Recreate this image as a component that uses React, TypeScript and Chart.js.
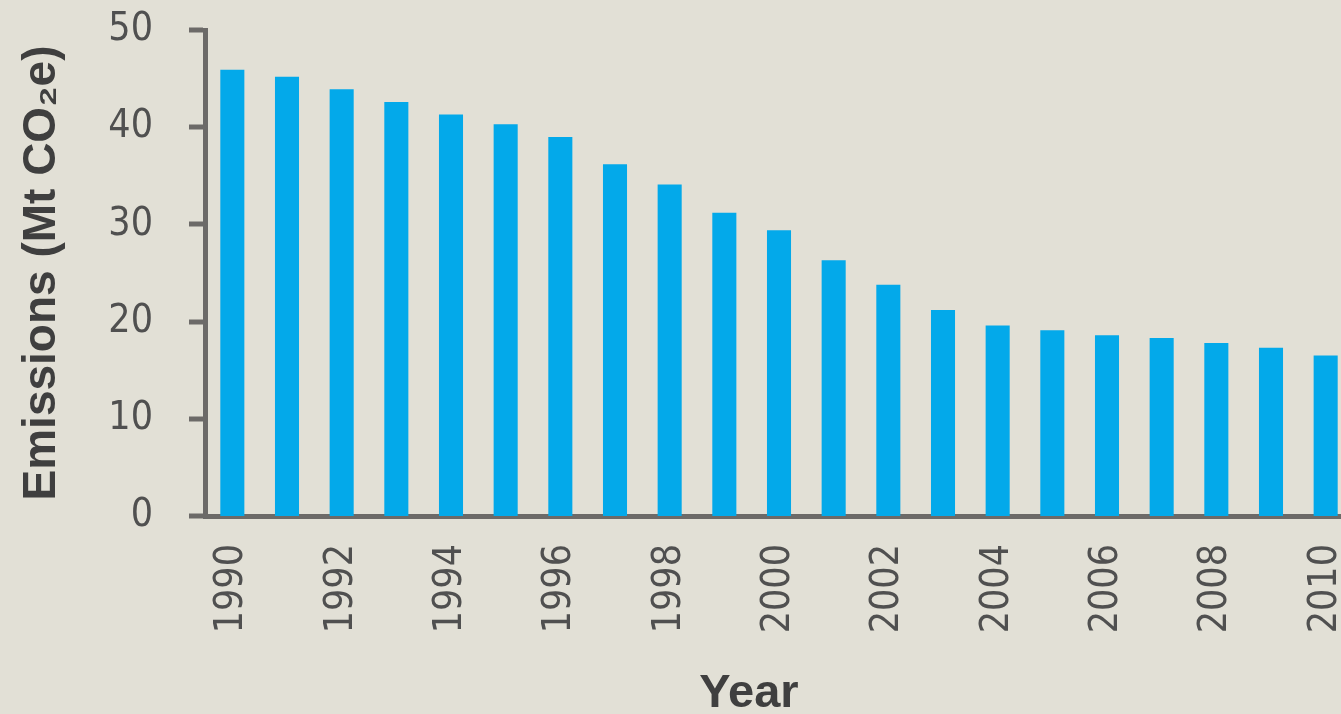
import React, { useEffect, useRef } from "react";
import { Chart, registerables } from "chart.js";

Chart.register(...registerables);

const years: string[] = [
  "1990", "1991", "1992", "1993", "1994", "1995", "1996", "1997", "1998", "1999",
  "2000", "2001", "2002", "2003", "2004", "2005", "2006", "2007", "2008", "2009", "2010",
];

const emissions: number[] = [
  45.9, 45.2, 43.9, 42.6, 41.3, 40.3, 39.0, 36.2, 34.1, 31.2,
  29.4, 26.3, 23.8, 21.2, 19.6, 19.1, 18.6, 18.3, 17.8, 17.3, 16.5,
];

const yTicks: number[] = [0, 10, 20, 30, 40, 50];

const xTitle = "Year";
const yTitle = "Emissions (Mt CO₂e)";

const BG = "#e2e0d6";
const BAR = "#03a9ea";
const AXIS = "#6c6a68";
const TEXT = "#505050";
const TITLE = "#3f3f3f";
const NARROW = "'Liberation Sans Narrow', 'DejaVu Sans Condensed', 'Liberation Sans', sans-serif";
const BOLD = "'Liberation Sans', Arial, sans-serif";

const zeroPadding = (s: any) => {
  s.paddingTop = 0;
  s.paddingBottom = 0;
  s.paddingLeft = 0;
  s.paddingRight = 0;
};

const xTitlePlugin = {
  id: "xTitlePlugin",
  afterDraw(chart: any) {
    const { ctx, chartArea } = chart;
    ctx.save();
    ctx.fillStyle = TITLE;
    ctx.font = `bold 47px ${BOLD}`;
    ctx.textAlign = "center";
    ctx.textBaseline = "alphabetic";
    const cx = (chartArea.left + chartArea.right) / 2 - 30;
    ctx.fillText(xTitle, cx, 707);
    ctx.restore();
  },
};

export default function App() {
  const ref = useRef<HTMLCanvasElement | null>(null);

  useEffect(() => {
    document.body.style.margin = "0";
    document.body.style.background = BG;
    const canvas = ref.current;
    if (!canvas) return;
    const chart = new Chart(canvas, {
      type: "bar",
      data: {
        labels: years,
        datasets: [
          {
            label: "Emissions",
            data: emissions,
            backgroundColor: BAR,
            borderWidth: 0,
            barPercentage: 0.44,
            categoryPercentage: 1,
          },
        ],
      },
      plugins: [xTitlePlugin],
      options: {
        animation: false,
        responsive: false,
        devicePixelRatio: 1,
        layout: { padding: { top: 30, left: 0, right: 0, bottom: 0 } },
        plugins: {
          legend: { display: false },
          tooltip: { enabled: false },
        },
        scales: {
          x: {
            afterFit: (s: any) => {
              s.height = 198;
              zeroPadding(s);
            },
            grid: { display: false, drawTicks: false },
            border: { display: true, color: AXIS, width: 5 },
            ticks: {
              autoSkip: false,
              minRotation: 90,
              maxRotation: 90,
              padding: 28,
              color: TEXT,
              font: { family: NARROW, size: 39 },
              callback: (_v: any, i: number) => (i % 2 === 0 ? years[i] : ""),
            },
            title: { display: false },
          },
          y: {
            min: 0,
            max: 50,
            afterFit: (s: any) => {
              s.width = 205;
              zeroPadding(s);
            },
            afterBuildTicks: (s: any) => {
              s.ticks = yTicks.map((v) => ({ value: v }));
            },
            grid: {
              display: true,
              drawOnChartArea: false,
              drawTicks: true,
              tickLength: 16,
              tickWidth: 5,
              tickColor: AXIS,
              lineWidth: 0,
            },
            border: { display: true, color: AXIS, width: 5 },
            ticks: {
              padding: 36,
              color: TEXT,
              font: { family: NARROW, size: 39 },
            },
            title: {
              display: true,
              text: yTitle,
              color: TITLE,
              font: { family: BOLD, size: 46, weight: "bold", lineHeight: 1 },
              padding: { top: 19, bottom: 0 },
            },
          },
        },
      },
    });
    return () => chart.destroy();
  }, []);

  return (
    <div
      style={{
        position: "fixed",
        left: 0,
        top: 0,
        width: 1341,
        height: 714,
        overflow: "hidden",
        background: BG,
      }}
    >
      <canvas ref={ref} width={1353} height={714} style={{ display: "block", width: 1353, height: 714 }} />
    </div>
  );
}
